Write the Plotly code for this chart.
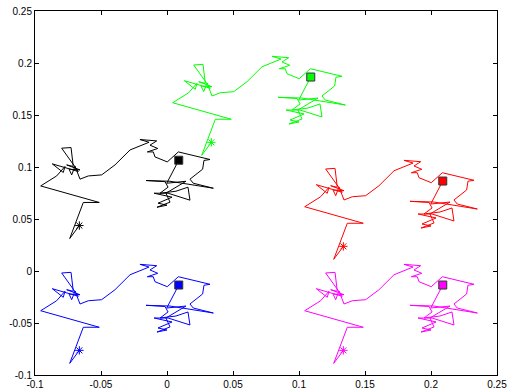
import plotly.graph_objects as go

# Base random-walk trajectory (shared by all five copies)
walk_x = [-0.0664, -0.0737, -0.0634, -0.0513, -0.0957, -0.0836, -0.0773, -0.0786,
          -0.0869, -0.0672, -0.0798, -0.0727, -0.0710, -0.0760, -0.0659, -0.0742,
          -0.0722, -0.0697, -0.0659, -0.0596, -0.0495, -0.0394, -0.0318, -0.0280,
          -0.0136, -0.0205, -0.0078, -0.0129, -0.0070, -0.0149, -0.0104, -0.0091,
          0.0002, 0.0086, 0.0326, 0.0280, 0.0270, 0.0174, 0.0199, 0.0351,
          0.0023, -0.0159, -0.0015, 0.0008, -0.0053, 0.0068, 0.0159, 0.0174,
          0.0008, -0.0098, 0.0038, -0.0068, 0.0000, -0.0076, 0.0023, -0.0008,
          0.0144, -0.0002, 0.0089]
walk_y = [-0.0763, -0.0888, -0.0541, -0.0541, -0.0382, -0.0286, -0.0195, -0.0253,
          -0.0170, -0.0243, -0.0019, -0.0013, -0.0195, -0.0180, -0.0228, -0.0221,
          -0.0276, -0.0192, -0.0317, -0.0286, -0.0276, -0.0180, -0.0084, -0.0036,
          0.0038, 0.0064, 0.0051, 0.0010, -0.0022, -0.0055, -0.0055, -0.0103,
          -0.0151, -0.0055, -0.0128, -0.0137, -0.0221, -0.0317, -0.0356, -0.0404,
          -0.0337, -0.0330, -0.0341, -0.0394, -0.0452, -0.0433, -0.0394, -0.0519,
          -0.0452, -0.0452, -0.0490, -0.0548, -0.0567, -0.0587, -0.0538, -0.0452,
          -0.0337, -0.0356, -0.0135]

# Offsets of the five copies
series_names = ["black", "green", "red", "blue", "magenta"]
series_colors = ["#000000", "#00ff00", "#ff0000", "#0000ff", "#ff00ff"]
offset_x = [0.0, 0.1, 0.2, 0.0, 0.2]
offset_y = [0.12, 0.2, 0.1, 0.0, 0.0]

x_ticks = [-0.1, -0.05, 0, 0.05, 0.1, 0.15, 0.2, 0.25]
x_tick_labels = ["-0.1", "-0.05", "0", "0.05", "0.1", "0.15", "0.2", "0.25"]
y_ticks = [-0.1, -0.05, 0, 0.05, 0.1, 0.15, 0.2, 0.25]
y_tick_labels = ["-0.1", "-0.05", "0", "0.05", "0.1", "0.15", "0.2", "0.25"]

fig = go.Figure()
for name, col, dx, dy in zip(series_names, series_colors, offset_x, offset_y):
    xs = [v + dx for v in walk_x]
    ys = [v + dy for v in walk_y]
    fig.add_trace(go.Scatter(x=xs, y=ys, mode="lines", name=name,
                             line=dict(color=col, width=1), showlegend=False))
    fig.add_trace(go.Scatter(x=[xs[0]], y=[ys[0]], mode="markers", showlegend=False,
                             marker=dict(symbol="asterisk-open", size=7, color=col,
                                         line=dict(color=col, width=1))))
    fig.add_trace(go.Scatter(x=[xs[-1]], y=[ys[-1]], mode="markers", showlegend=False,
                             marker=dict(symbol="square", size=8, color=col,
                                         line=dict(color="#333333", width=1))))

axis_common = dict(showgrid=False, zeroline=False, showline=True, linecolor="black",
                   linewidth=1, mirror="ticks", ticks="inside", ticklen=4,
                   tickcolor="black", automargin=False,
                   tickfont=dict(family="Liberation Sans, Arial", size=10, color="black"))
fig.update_xaxes(range=[-0.1, 0.25], tickvals=x_ticks, ticktext=x_tick_labels, **axis_common)
fig.update_yaxes(range=[-0.1, 0.25], tickvals=y_ticks, ticktext=y_tick_labels, **axis_common)
fig.update_layout(width=510, height=391, margin=dict(l=35, r=13, t=11, b=16),
                  plot_bgcolor="white", paper_bgcolor="white")
fig.write_html("out.html", config={"displayModeBar": False},
               post_script="document.body.style.margin='0';document.body.style.overflow='hidden';")
